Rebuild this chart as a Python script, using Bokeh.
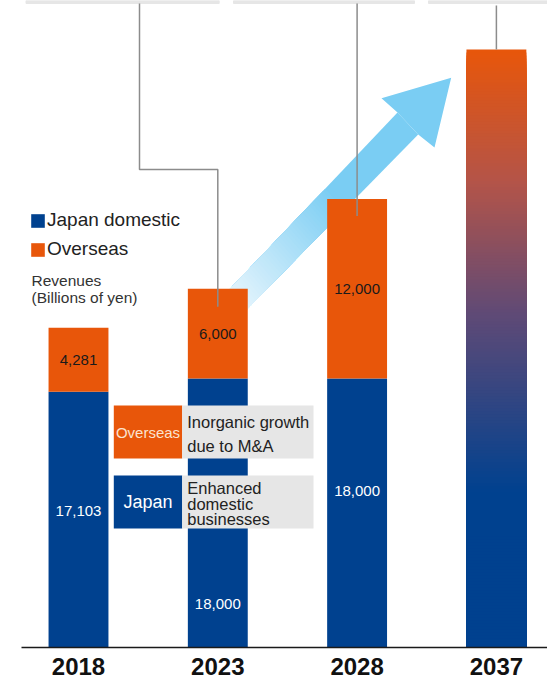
from bokeh.plotting import figure
from bokeh.models import Range1d, Legend, LegendItem, ColumnDataSource
from bokeh.core.properties import value
from bokeh.embed import file_html
from bokeh.resources import INLINE

# ---------------- data ----------------
years = ["2018", "2023", "2028", "2037"]
japan = [17103, 18000, 18000]
overseas = [4281, 6000, 12000]
target_2037 = 40000
series_names = ["Japan domestic", "Overseas"]
unit_note = ["Revenues", "(Billions of yen)"]
note_overseas_tag = "Overseas"
note_overseas = ["Inorganic growth", "due to M&A"]
note_japan_tag = "Japan"
note_japan = ["Enhanced", "domestic", "businesses"]

# ---------------- style / layout ----------------
BLUE = "#00418F"
ORANGE = "#E8560A"
SKY = "#7ACDF3"
GREY_BOX = "#E6E6E6"
LEADER = "#8C8C8C"
FONT = value("Liberation Sans")

W, H = 547, 681
SX = 139.3            # px per category
X0 = -78 / SX         # data x at left edge
U = 1 / 0.01495       # data units per px
BASE_PX = 647         # baseline pixel row
YTOP = BASE_PX * U
BAR_W = 0.43


def dx(px):
    return X0 + px / SX


def dy(py):
    return YTOP - py * U


def hex2rgb(h):
    h = h.lstrip("#")
    return tuple(int(h[i:i + 2], 16) for i in (0, 2, 4))


def mix(c1, c2, t):
    a, b = hex2rgb(c1), hex2rgb(c2)
    return "#%02x%02x%02x" % tuple(int(round(a[i] + (b[i] - a[i]) * t)) for i in range(3))


def grad(stops, f):
    for (f0, c0), (f1, c1) in zip(stops, stops[1:]):
        if f <= f1:
            return mix(c0, c1, (f - f0) / (f1 - f0) if f1 > f0 else 0)
    return stops[-1][1]


p = figure(width=W, height=H, output_backend="svg", toolbar_location=None,
           x_range=Range1d(X0, X0 + W / SX), y_range=Range1d(YTOP - H * U, YTOP),
           x_axis_location=None, y_axis_location=None, min_border=0,
           outline_line_color=None, background_fill_color="white",
           border_fill_color="white")
p.grid.visible = False

# top grey strips (cropped panels)
p.quad(left=[dx(25.5), dx(233), dx(428)], right=[dx(218.7), dx(414), dx(547)],
       top=[dy(0)] * 3, bottom=[dy(3)] * 3, color=GREY_BOX)

# ---------------- arrow ----------------
tip = (450.7, 77.3); lb = (381, 97.7); ln = (397, 112); rn = (417.7, 134); rb = (434, 147)
ls = (212.8, 306.1); rsx = (229.5, 326.1)
xs, ys, cols = [], [], []


def add_poly(pts, c):
    xs.append([dx(a) for a, b in pts])
    ys.append([dy(b) for a, b in pts])
    cols.append(c)


add_poly([ls, ln, rn, rsx], SKY)
add_poly([tip, lb, ln, rn, rb], SKY)
M = 50
TF = 0.62
for k in range(M - 1, 0, -1):
    t = TF * k / M
    lt = (ls[0] + t * (ln[0] - ls[0]), ls[1] + t * (ln[1] - ls[1]))
    rt = (rsx[0] + t * (rn[0] - rsx[0]), rsx[1] + t * (rn[1] - rsx[1]))
    add_poly([ls, lt, rt, rsx], mix("#F4FAFE", SKY, (k - 0.5) / M))
p.patches(xs=xs, ys=ys, fill_color=cols, line_color=None)

# ---------------- bars ----------------
src = ColumnDataSource(dict(x=[0, 1, 2], japan=japan, overseas=overseas))
rs = p.vbar_stack(["japan", "overseas"], x="x", width=BAR_W, color=[BLUE, ORANGE],
                  line_color=None, source=src)

# 2037 gradient bar
stops = [(0.0, "#E8560A"), (0.22, "#B45448"), (0.44, "#604A76"), (0.74, "#00418F"), (1.0, "#00418F")]
N = 200
levels = [target_2037 * (N - k) / N for k in range(N)]
gcols = [grad(stops, (k + 0.5) / N) for k in range(N)]
p.vbar(x=[3] * N, width=BAR_W, bottom=0, top=levels, fill_color=gcols, line_color=None)

# baseline
p.segment(x0=[dx(21)], x1=[dx(547)], y0=[0], y1=[0], line_color="#1a1a1a", line_width=1.5)

# ---------------- leader lines ----------------
tot = [j + o for j, o in zip(japan, overseas)]
p.line(x=[dx(139), dx(139), 1, 1], y=[dy(3), dy(169), dy(169), tot[1] - 18 * U],
       line_color=LEADER, line_width=1.5)
p.line(x=[2, 2], y=[dy(3), tot[2] - 17 * U], line_color=LEADER, line_width=1.5)
p.line(x=[3, 3], y=[dy(5), target_2037], line_color=LEADER, line_width=1.5)

# ---------------- value labels ----------------
ov_y = [j + o / 2 for j, o in zip(japan, overseas)]
p.text(x=[0, 1, 2], y=ov_y, text=[f"{v:,}" for v in overseas], text_align="center",
       text_baseline="middle", text_font=FONT, text_font_size="15px", text_color="#1a1a1a")
jp_shift_px = [-9, 91, -22]
jp_y = [j / 2 - s * U for j, s in zip(japan, jp_shift_px)]
p.text(x=[0, 1, 2], y=jp_y, text=[f"{v:,}" for v in japan], text_align="center",
       text_baseline="middle", text_font=FONT, text_font_size="15px", text_color="white")

# ---------------- annotation boxes ----------------
p.quad(left=[dx(113.3), dx(181.7), dx(113.3), dx(181.7)],
       right=[dx(181.7), dx(313), dx(181.7), dx(313)],
       top=[dy(405), dy(405), dy(475), dy(475)],
       bottom=[dy(458), dy(458), dy(528), dy(528)],
       fill_color=[ORANGE, GREY_BOX, BLUE, GREY_BOX], line_color=None)
p.text(x=[dx(147.5)], y=[dy(431.7)], text=[note_overseas_tag], text_align="center",
       text_baseline="middle", text_font=FONT, text_font_size="15px", text_color="#FBE3D0")
p.text(x=[dx(147.5)], y=[dy(501)], text=[note_japan_tag], text_align="center",
       text_baseline="middle", text_font=FONT, text_font_size="18px", text_color="white")
p.text(x=[dx(186.7)] * 2, y=[dy(421.7), dy(445)], text=note_overseas, text_align="left",
       text_baseline="middle", text_font=FONT, text_font_size="16.5px", text_color="#222222")
p.text(x=[dx(186.7)] * 3, y=[dy(487), dy(503), dy(518.5)], text=note_japan, text_align="left",
       text_baseline="middle", text_font=FONT, text_font_size="16.5px", text_color="#222222")

# unit note
p.text(x=[dx(31)] * 2, y=[dy(280), dy(296.7)], text=unit_note, text_align="left",
       text_baseline="middle", text_font=FONT, text_font_size="15.5px", text_color="#333333")

# year labels
p.text(x=[0, 1, 2, 3], y=[dy(666)] * 4, text=years, text_align="center",
       text_baseline="middle", text_font=FONT, text_font_style="bold",
       text_font_size="24px", text_color="#111111")

# ---------------- legend ----------------
legend = Legend(items=[LegendItem(label=series_names[0], renderers=[rs[0]]),
                       LegendItem(label=series_names[1], renderers=[rs[1]])],
                location=(29, H - 260), orientation="vertical", padding=0, margin=0,
                spacing=7, glyph_width=17, glyph_height=17, label_standoff=1,
                label_text_font_size="19px", label_text_font="Liberation Sans",
                label_text_color="#222222", border_line_color=None,
                background_fill_alpha=0, label_height=14)
p.add_layout(legend)

open("out.html", "w").write(file_html(p, INLINE))
